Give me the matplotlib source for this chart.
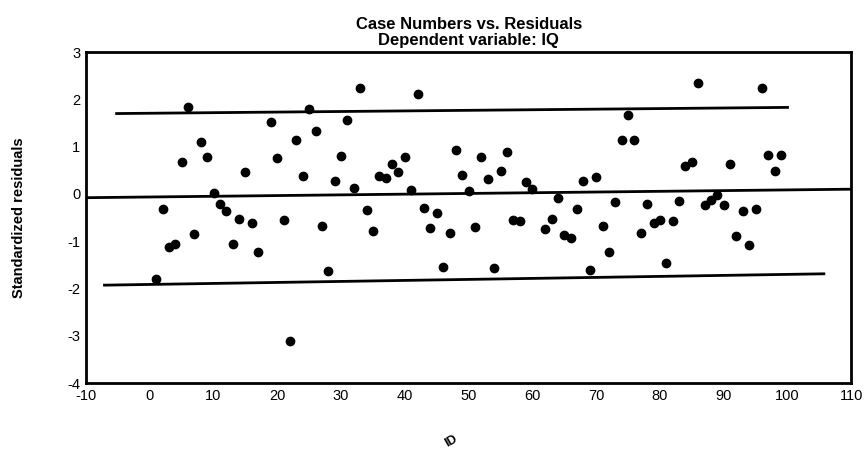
import matplotlib
matplotlib.use("Agg")
import matplotlib.pyplot as plt

plt.rcParams["font.family"] = ["Liberation Sans", "DejaVu Sans"]
plt.rcParams["axes.unicode_minus"] = False

# Numéros de cas et résidus standardisés
case_numbers = [1, 2, 3, 4, 5, 6, 7, 8, 9, 10, 11, 12, 13, 14, 15, 16, 17,
                19, 20, 21, 22, 23, 24, 25, 26, 27, 28, 29, 30, 31, 32, 33,
                34, 35, 36, 37, 38, 39, 40, 41, 42, 43, 44, 45, 46, 47, 48,
                49, 50, 51, 52, 53, 54, 55, 56, 57, 58, 59, 60, 62, 63, 64,
                65, 66, 67, 68, 69, 70, 71, 72, 73, 74, 75, 76, 77, 78, 79,
                80, 81, 82, 83, 84, 85, 86, 87, 88, 89, 90, 91, 92, 93, 94,
                95, 96, 97, 98, 99]
residuals = [-1.81, -0.31, -1.12, -1.07, 0.67, 1.84, -0.85, 1.09, 0.79, 0.01,
             -0.21, -0.36, -1.07, -0.53, 0.46, -0.61, -1.22,
             1.52, 0.76, -0.55, -3.12, 1.15, 0.38, 1.80, 1.33, -0.67, -1.64,
             0.28, 0.80, 1.56, 0.12, 2.23,
             -0.34, -0.79, 0.38, 0.33, 0.64, 0.46, 0.78, 0.09, 2.11, -0.29,
             -0.73, -0.41, -1.54, -0.83, 0.93,
             0.40, 0.07, -0.69, 0.78, 0.31, -1.57, 0.48, 0.89, -0.55, -0.57,
             0.26, 0.11, -0.74, -0.54, -0.08,
             -0.86, -0.93, -0.31, 0.28, -1.61, 0.35, -0.67, -1.22, -0.17, 1.14,
             1.66, 1.15, -0.83, -0.21, -0.62,
             -0.55, -1.46, -0.57, -0.16, 0.60, 0.68, 2.35, -0.24, -0.12, -0.03,
             -0.23, 0.64, -0.90, -0.37, -1.08,
             -0.31, 2.23, 0.82, 0.49, 0.83]

# Lignes de référence (début, fin)
upper_x = [-5.2, 100.0]
upper_y = [1.70, 1.83]
middle_x = [-10, 110]
middle_y = [-0.08, 0.10]
lower_x = [-7.1, 105.7]
lower_y = [-1.93, -1.69]

xticks = list(range(-10, 111, 10))
yticks = list(range(-4, 4))

fig = plt.figure(figsize=(8.66, 4.53), dpi=100)
ax = fig.add_axes([0.0993, 0.1545, 0.8837, 0.7305])

ax.plot(upper_x, upper_y, color="black", lw=2)
ax.plot(middle_x, middle_y, color="black", lw=2)
ax.plot(lower_x, lower_y, color="black", lw=2)
ax.plot(case_numbers, residuals, "o", color="black", ms=6, ls="none")

ax.set_xlim(-10, 110)
ax.set_ylim(-4, 3)
ax.set_xticks(xticks)
ax.set_yticks(yticks)
ax.tick_params(length=0, labelsize=10.5, pad=4)
for s in ax.spines.values():
    s.set_linewidth(2)

ax.set_title("Case Numbers vs. Residuals\nDependent variable: IQ",
             fontsize=12, fontweight="bold", pad=5, linespacing=1.1)
fig.text(0.022, 0.52, "Standardized residuals", rotation=90,
         ha="center", va="center", fontsize=10.5,
         family=["Liberation Sans Narrow", "Liberation Sans"], fontweight="bold")
fig.text(0.521, 0.026, "ID", rotation=30, ha="center", va="center",
         fontsize=9, fontweight="bold")

fig.savefig("out.png", dpi=100)
